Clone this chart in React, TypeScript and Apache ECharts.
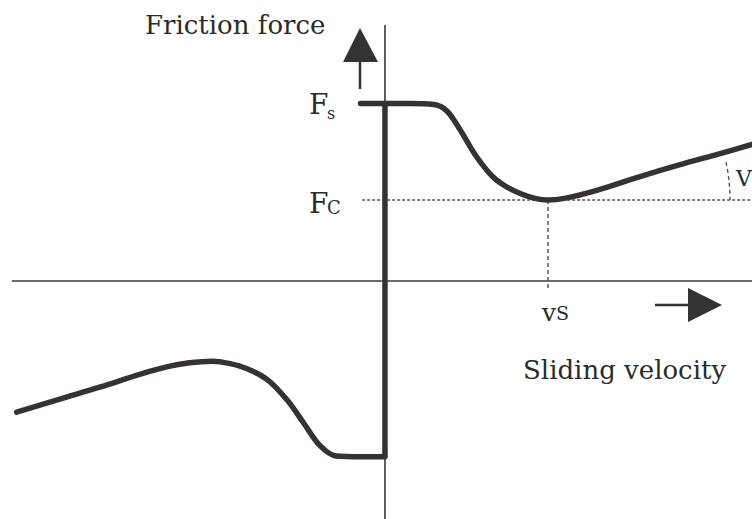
import React, { useEffect, useRef } from "react";
import * as echarts from "echarts";

// Velocity in units of the Stribeck velocity vs, force in units of Coulomb friction Fc.
const negativeBranch: [number, number][] = [
  [-2.26, -1.62],
  [-2.0, -1.46],
  [-1.75, -1.31],
  [-1.5, -1.15],
  [-1.34, -1.06],
  [-1.2, -1.01],
  [-1.06, -0.99],
  [-0.95, -1.02],
  [-0.85, -1.08],
  [-0.72, -1.22],
  [-0.6, -1.47],
  [-0.5, -1.75],
  [-0.4, -2.03],
  [-0.3, -2.16],
  [-0.15, -2.17],
  [0, -2.17],
];

const staticJump: [number, number][] = [
  [0, -2.17],
  [0, 2.19],
];

const positiveBranch: [number, number][] = [
  [-0.15, 2.19],
  [0, 2.19],
  [0.15, 2.19],
  [0.3, 2.18],
  [0.38, 2.1],
  [0.46, 1.87],
  [0.56, 1.54],
  [0.66, 1.29],
  [0.74, 1.17],
  [0.83, 1.08],
  [0.92, 1.02],
  [1.0, 1.0],
  [1.1, 1.02],
  [1.3, 1.12],
  [1.55, 1.28],
  [1.8, 1.43],
  [2.05, 1.57],
  [2.26, 1.69],
];

const forceAxis: [number, number][] = [
  [0, -2.94],
  [0, 3.16],
];
const velocityAxis: [number, number][] = [
  [-2.29, 0],
  [2.26, 0],
];
const coulombLevel: [number, number][] = [
  [-0.14, 1],
  [2.26, 1],
];
const stribeckVelocity: [number, number][] = [
  [1, 1],
  [1, -0.09],
];

const INK = "#363232";
const TEXT = "#2b2b2b";
const SERIF = "'DejaVu Serif', 'Liberation Serif', serif";

function lineSeries(name: string, data: [number, number][], style: any, smooth: number | boolean = false) {
  return {
    name,
    type: "line",
    data,
    smooth,
    symbol: "none",
    silent: true,
    lineStyle: style,
  };
}

function label(x: number, y: number, text: string, size: number) {
  return {
    type: "text",
    x,
    y,
    style: { text, font: `${size}px ${SERIF}`, fill: TEXT, verticalAlign: "middle", align: "left" },
  };
}

export default function App() {
  const ref = useRef<HTMLDivElement>(null);

  useEffect(() => {
    if (!ref.current) return;
    const chart = echarts.init(ref.current, null, { renderer: "svg" });
    chart.setOption({
      animation: false,
      backgroundColor: "#ffffff",
      grid: { left: 0, right: 0, top: 0, bottom: 0 },
      xAxis: {
        type: "value",
        min: -2.362,
        max: 2.252,
        show: false,
        splitLine: { show: false },
      },
      yAxis: {
        type: "value",
        min: -2.938,
        max: 3.469,
        show: false,
        splitLine: { show: false },
      },
      series: [
        lineSeries("velocity axis", velocityAxis, { color: "#3a3a3a", width: 1.6 }),
        lineSeries("force axis", forceAxis, { color: "#3a3a3a", width: 1.6 }),
        lineSeries("Fc level", coulombLevel, { color: "#555", width: 1.5, type: [3, 2] }),
        lineSeries("vs", stribeckVelocity, { color: "#555", width: 1.5, type: [4, 3] }),
        lineSeries("negative", negativeBranch, { color: INK, width: 5.5, cap: "round", join: "round" }, 0.35),
        lineSeries("jump", staticJump, { color: INK, width: 5.5 }),
        lineSeries("positive", positiveBranch, { color: INK, width: 5.5, cap: "round", join: "round" }, 0.35),
      ],
      graphic: [
        // upward arrow next to the force axis
        {
          type: "polygon",
          shape: { points: [[360, 28], [343, 62], [378, 62]] },
          style: { fill: "#333" },
        },
        {
          type: "line",
          shape: { x1: 360, y1: 60, x2: 360, y2: 89 },
          style: { stroke: "#333", lineWidth: 2.5 },
        },
        // rightward arrow under the velocity axis
        {
          type: "line",
          shape: { x1: 655, y1: 305, x2: 690, y2: 305 },
          style: { stroke: "#333", lineWidth: 2.5 },
        },
        {
          type: "polygon",
          shape: { points: [[722, 305], [688, 288], [688, 322]] },
          style: { fill: "#333" },
        },
        // slope marker for viscous friction
        {
          type: "arc",
          shape: { cx: 548, cy: 200, r: 182, startAngle: -0.21, endAngle: 0, clockwise: true },
          style: { stroke: "#555", lineWidth: 1.4, lineDash: [4, 3], fill: "none" },
        },
        label(145, 25, "Friction force", 26),
        label(309, 104, "F", 28),
        label(327, 113, "s", 16),
        label(309, 203, "F", 28),
        label(327, 207, "C", 18),
        label(542, 312, "v", 25),
        label(556, 313, "S", 19),
        label(523, 370, "Sliding velocity", 26),
        label(736, 178, "V", 22),
      ],
    });
    return () => chart.dispose();
  }, []);

  return (
    <div
      ref={ref}
      style={{ position: "absolute", left: 0, top: 0, width: 752, height: 519 }}
    />
  );
}
